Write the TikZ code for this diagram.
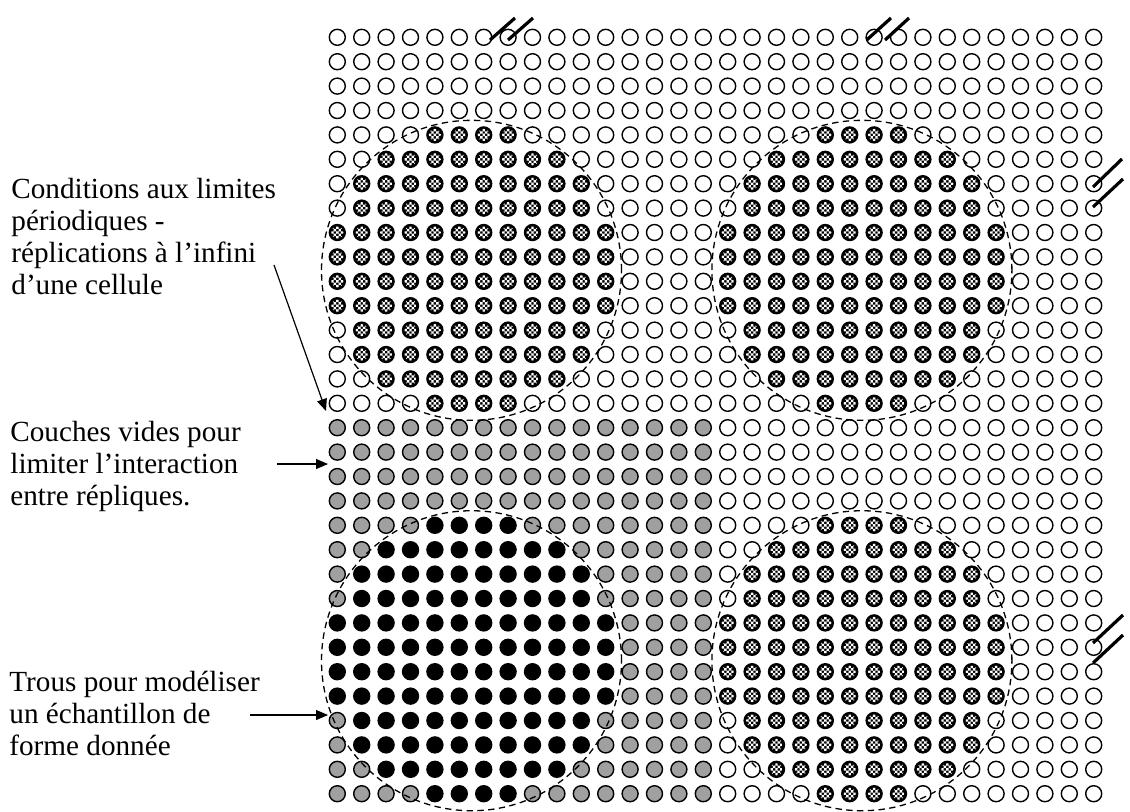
\documentclass[tikz,border=0pt]{standalone}
\usepackage{fontspec}
\setmainfont{Liberation Serif}
\usetikzlibrary{arrows.meta}
\definecolor{cellgray}{RGB}{160,160,160}
\newcommand\chkwhite{%
  (-6,-6) rectangle (-3.6,-3.6) (-1.2,-6) rectangle (1.2,-3.6) (3.6,-6) rectangle (6,-3.6)
  (-3.6,-3.6) rectangle (-1.2,-1.2) (1.2,-3.6) rectangle (3.6,-1.2)
  (-6,-1.2) rectangle (-3.6,1.2) (-1.2,-1.2) rectangle (1.2,1.2) (3.6,-1.2) rectangle (6,1.2)
  (-3.6,1.2) rectangle (-1.2,3.6) (1.2,1.2) rectangle (3.6,3.6)
  (-6,3.6) rectangle (-3.6,6) (-1.2,3.6) rectangle (1.2,6) (3.6,3.6) rectangle (6,6)}
\begin{document}
\begin{tikzpicture}[x=0.5pt,y=-0.5pt,
  atom/.style={line width=0.7pt},
  lbl/.style={anchor=base west,inner sep=0pt,font=\fontsize{14.6pt}{16pt}\selectfont},
  cellring/.style={dashed,line width=0.65pt,dash pattern=on 3.2pt off 2.2pt},
  brk/.style={line width=1.6pt},
  ptr/.style={line width=0.6pt,-{Triangle[length=6pt,width=5pt]}}]
\useasboundingbox (0,0) rectangle (1130,811);
\fill[white] (0,0) rectangle (1130,811);
% grid of atoms
\foreach \row in {0,...,31}{
  \foreach \col in {0,...,31}{
    \pgfmathsetmacro\px{337.3+24.4*\col}
    \pgfmathsetmacro\py{37.3+24.4*\row}
    \pgfmathtruncatemacro\lc{mod(\col,16)}
    \pgfmathtruncatemacro\lr{mod(\row,16)}
    \pgfmathtruncatemacro\ins{((\lc-5.5)^2+(\lr-9.5)^2)<34}
    \pgfmathtruncatemacro\bl{(\col<16)&&(\row>15)}
    \ifnum\ins=1
      \ifnum\bl=1
        \fill[black] (\px,\py) circle[radius=4.35pt];
      \else
        \fill[black] (\px,\py) circle[radius=4.35pt];
        \begin{scope}[shift={(\px,\py)}]
          \clip (0,0) circle[radius=3pt];
          \fill[white] \chkwhite;
        \end{scope}
      \fi
    \else
      \ifnum\bl=1
        \draw[atom,fill=cellgray] (\px,\py) circle[radius=4pt];
      \else
        \draw[atom] (\px,\py) circle[radius=4pt];
      \fi
    \fi
  }
}
% dashed cell outlines
\foreach \ox/\oy in {0/0,16/0,0/16,16/16}{
  \draw[cellring] ({337.3+24.4*(\ox+5.5)},{37.3+24.4*(\oy+9.55)}) circle[radius=75pt];
}
% periodicity break marks
\draw[brk] (490,40) -- (515,18);
\draw[brk] (508,40) -- (533,18);
\draw[brk] (866.7,40) -- (891,18);
\draw[brk] (885,40) -- (909,18);
\draw[brk] (1093,187) -- (1122,159);
\draw[brk] (1093,207) -- (1123,179);
\draw[brk] (1093,643) -- (1123,615);
\draw[brk] (1093,663) -- (1123,635);
% labels
\node[lbl] (l1a) at (11,198) {Conditions aux limites};
\node[lbl] (l1b) at (11,230) {périodiques -};
\node[lbl] (l1c) at (11,262) {réplications à l’infini};
\node[lbl] (l1d) at (11,294) {d’une cellule};
\node[lbl] (l2a) at (10,441) {Couches vides pour};
\node[lbl] (l2b) at (10,473) {limiter l’interaction};
\node[lbl] (l2c) at (10,505) {entre répliques.};
\node[lbl] (l3a) at (9,691) {Trous pour modéliser};
\node[lbl] (l3b) at (9,723) {un échantillon de};
\node[lbl] (l3c) at (9,755) {forme donnée};
% arrows
\coordinate (s1) at (274,265);
\coordinate (t1) at (326,411);
\coordinate (s2) at (277,464);
\coordinate (t2) at (328,464);
\coordinate (s3) at (250,715);
\coordinate (t3) at (328,715);
\draw[ptr] (s1) -- (t1);
\draw[ptr] (s2) -- (t2);
\draw[ptr] (s3) -- (t3);
\end{tikzpicture}
\end{document}
